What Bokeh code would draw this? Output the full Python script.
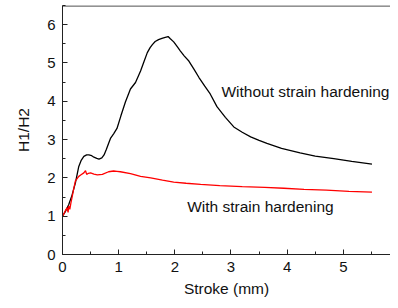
from bokeh.plotting import figure
from bokeh.models import Range1d, Label, SingleIntervalTicker, Span
from bokeh.embed import file_html
from bokeh.resources import INLINE

# Curve without strain hardening (black)
x_without = [0.0, 0.05, 0.11, 0.17, 0.23, 0.29, 0.33, 0.38, 0.43, 0.47, 0.52, 0.56, 0.61, 0.65,
             0.70, 0.74, 0.78, 0.82, 0.854, 0.91, 0.97, 1.04, 1.12, 1.21, 1.30, 1.39, 1.45, 1.51,
             1.56, 1.60, 1.65, 1.71, 1.77, 1.83, 1.88, 1.92, 1.98, 2.04, 2.10, 2.17, 2.25, 2.34,
             2.43, 2.53, 2.63, 2.75, 2.90, 3.05, 3.20, 3.35, 3.50, 3.64, 3.90, 4.23, 4.50, 4.83,
             5.15, 5.51]
y_without = [1.0, 1.12, 1.30, 1.55, 1.87, 2.30, 2.45, 2.56, 2.60, 2.60, 2.58, 2.54, 2.51, 2.49,
             2.52, 2.60, 2.74, 2.90, 3.03, 3.15, 3.29, 3.62, 3.98, 4.32, 4.49, 4.79, 5.03, 5.27,
             5.40, 5.48, 5.56, 5.61, 5.64, 5.67, 5.69, 5.63, 5.55, 5.43, 5.31, 5.18, 5.05, 4.84,
             4.62, 4.40, 4.19, 3.86, 3.58, 3.33, 3.19, 3.07, 2.98, 2.90, 2.77, 2.65, 2.57, 2.50,
             2.43, 2.36]

# Curve with strain hardening (red)
x_with = [0.0, 0.03, 0.05, 0.08, 0.10, 0.11, 0.13, 0.15, 0.17, 0.20, 0.23, 0.26, 0.29, 0.33,
          0.38, 0.41, 0.43, 0.46, 0.50, 0.56, 0.62, 0.71, 0.82, 0.91, 0.97, 1.03, 1.21, 1.39,
          1.57, 1.78, 1.98, 2.20, 2.46, 2.80, 3.20, 3.60, 3.94, 4.30, 4.70, 5.10, 5.51]
y_with = [1.0, 1.08, 1.14, 1.22, 1.10, 1.27, 1.18, 1.35, 1.49, 1.72, 1.92, 1.98, 2.04, 2.08,
          2.13, 2.19, 2.09, 2.12, 2.13, 2.10, 2.08, 2.09, 2.16, 2.18, 2.17, 2.16, 2.11, 2.04,
          2.00, 1.94, 1.89, 1.86, 1.83, 1.80, 1.77, 1.75, 1.73, 1.70, 1.68, 1.65, 1.63]

FONT = "Liberation Sans"
Y_TOP = 6.5

p = figure(width=390, height=300, output_backend="svg", toolbar_location=None,
           x_range=Range1d(0, 5.84), y_range=Range1d(0, Y_TOP),
           min_border_left=62, min_border_right=0, min_border_top=5, min_border_bottom=46)
p.background_fill_color = "white"
p.border_fill_color = "white"
p.grid.visible = False
p.outline_line_color = None

# top frame line only (the right border lies outside the reference picture)
p.add_layout(Span(location=Y_TOP - 0.012, dimension="width", line_color="#111111", line_width=1))

p.line(x_without, y_without, line_color="black", line_width=1.3)
p.line(x_with, y_with, line_color="#ff0000", line_width=1.3)

xax = p.below[0]
yax = p.left[0]
for ax in (xax, yax):
    ax.axis_line_color = "#222222"
    ax.major_tick_line_color = "#222222"
    ax.minor_tick_line_color = "#222222"
    ax.major_tick_in = 5
    ax.major_tick_out = 0
    ax.minor_tick_in = 3
    ax.minor_tick_out = 0
    ax.major_label_text_font = FONT
    ax.major_label_text_font_size = "15px"
    ax.major_label_text_color = "#111111"
    ax.axis_label_text_font = FONT
    ax.axis_label_text_font_size = "15.5px"
    ax.axis_label_text_font_style = "normal"
    ax.axis_label_text_color = "#111111"

xax.ticker = SingleIntervalTicker(interval=1, num_minor_ticks=2)
yax.ticker = SingleIntervalTicker(interval=1, num_minor_ticks=2)
xax.axis_label = "Stroke (mm)"
yax.axis_label = "H1/H2"
xax.major_label_standoff = 7
yax.major_label_standoff = 7
xax.axis_label_standoff = 5
yax.axis_label_standoff = 12

p.add_layout(Label(x=2.83, y=4.25, text="Without strain hardening", text_font=FONT,
                   text_font_size="15.5px", text_baseline="middle", text_align="left",
                   text_color="#111111"))
p.add_layout(Label(x=2.22, y=1.26, text="With strain hardening", text_font=FONT,
                   text_font_size="15.5px", text_baseline="middle", text_align="left",
                   text_color="#111111"))

open("out.html", "w").write(file_html(p, INLINE))
